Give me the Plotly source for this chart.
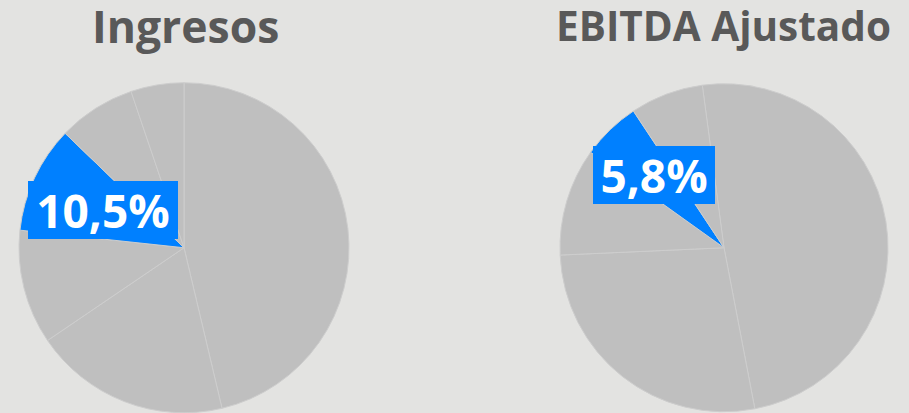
import plotly.graph_objects as go

# Data
titles = ["Ingresos", "EBITDA Ajustado"]
ingresos_values = [46.3, 19.2, 11.2, 10.5, 7.6, 5.2]
ebitda_values = [49.1, 27.3, 10.6, 5.8, 7.2]
highlight_index = [3, 3]
rotations = [0, -7.6]

W, H = 909, 413
BG = "#e3e3e1"
GREY = "#bfbfbf"
BLUE = "#0080ff"
TITLE_COLOR = "#595959"


def fmt(v):
    return f"{v:.1f}".replace(".", ",") + "%"


fig = go.Figure()

domains = [
    dict(x=[19 / W, 349 / W], y=[0.0 / H, 330.5 / H]),
    dict(x=[560 / W, 888 / W], y=[1.0 / H, 329.5 / H]),
]

for k, vals in enumerate([ingresos_values, ebitda_values]):
    colors = [BLUE if i == highlight_index[k] else GREY for i in range(len(vals))]
    fig.add_trace(go.Pie(
        values=vals,
        labels=[f"{titles[k]} {i}" for i in range(len(vals))],
        sort=False,
        direction="clockwise",
        rotation=rotations[k],
        marker=dict(colors=colors, line=dict(color="#cdcdcd", width=1)),
        textinfo="none",
        hoverinfo="skip",
        domain=domains[k],
        showlegend=False,
    ))

# Titles
title_pos = [(185 / W, 26), (723 / W, 26)]
title_sizes = [44.5, 40.5]
for k, t in enumerate(titles):
    fig.add_annotation(
        x=title_pos[k][0], y=1 - title_pos[k][1] / H, xref="paper", yref="paper",
        text=f"<b>{t}</b>", showarrow=False, xanchor="center", yanchor="middle",
        font=dict(family="Open Sans", size=title_sizes[k], color=TITLE_COLOR),
    )

# Highlight labels
label_boxes = [(103, 210, 150, 58), (654, 175, 122, 58)]
vals_hl = [ingresos_values[highlight_index[0]], ebitda_values[highlight_index[1]]]
for k, (cx, cy, bw, bh) in enumerate(label_boxes):
    fig.add_annotation(
        x=cx / W, y=1 - cy / H, xref="paper", yref="paper",
        text=f"<b>{fmt(vals_hl[k])}</b>", showarrow=False,
        xanchor="center", yanchor="middle",
        width=bw, height=bh, bgcolor=BLUE, borderpad=0, borderwidth=0,
        font=dict(family="Open Sans", size=46, color="white"),
    )

fig.update_layout(
    width=W, height=H,
    margin=dict(l=0, r=0, t=0, b=0),
    paper_bgcolor=BG, plot_bgcolor=BG,
)

fig.write_html(
    "out.html",
    config={"displayModeBar": False},
    post_script="document.body.style.margin='0';document.body.style.overflow='hidden';",
)
